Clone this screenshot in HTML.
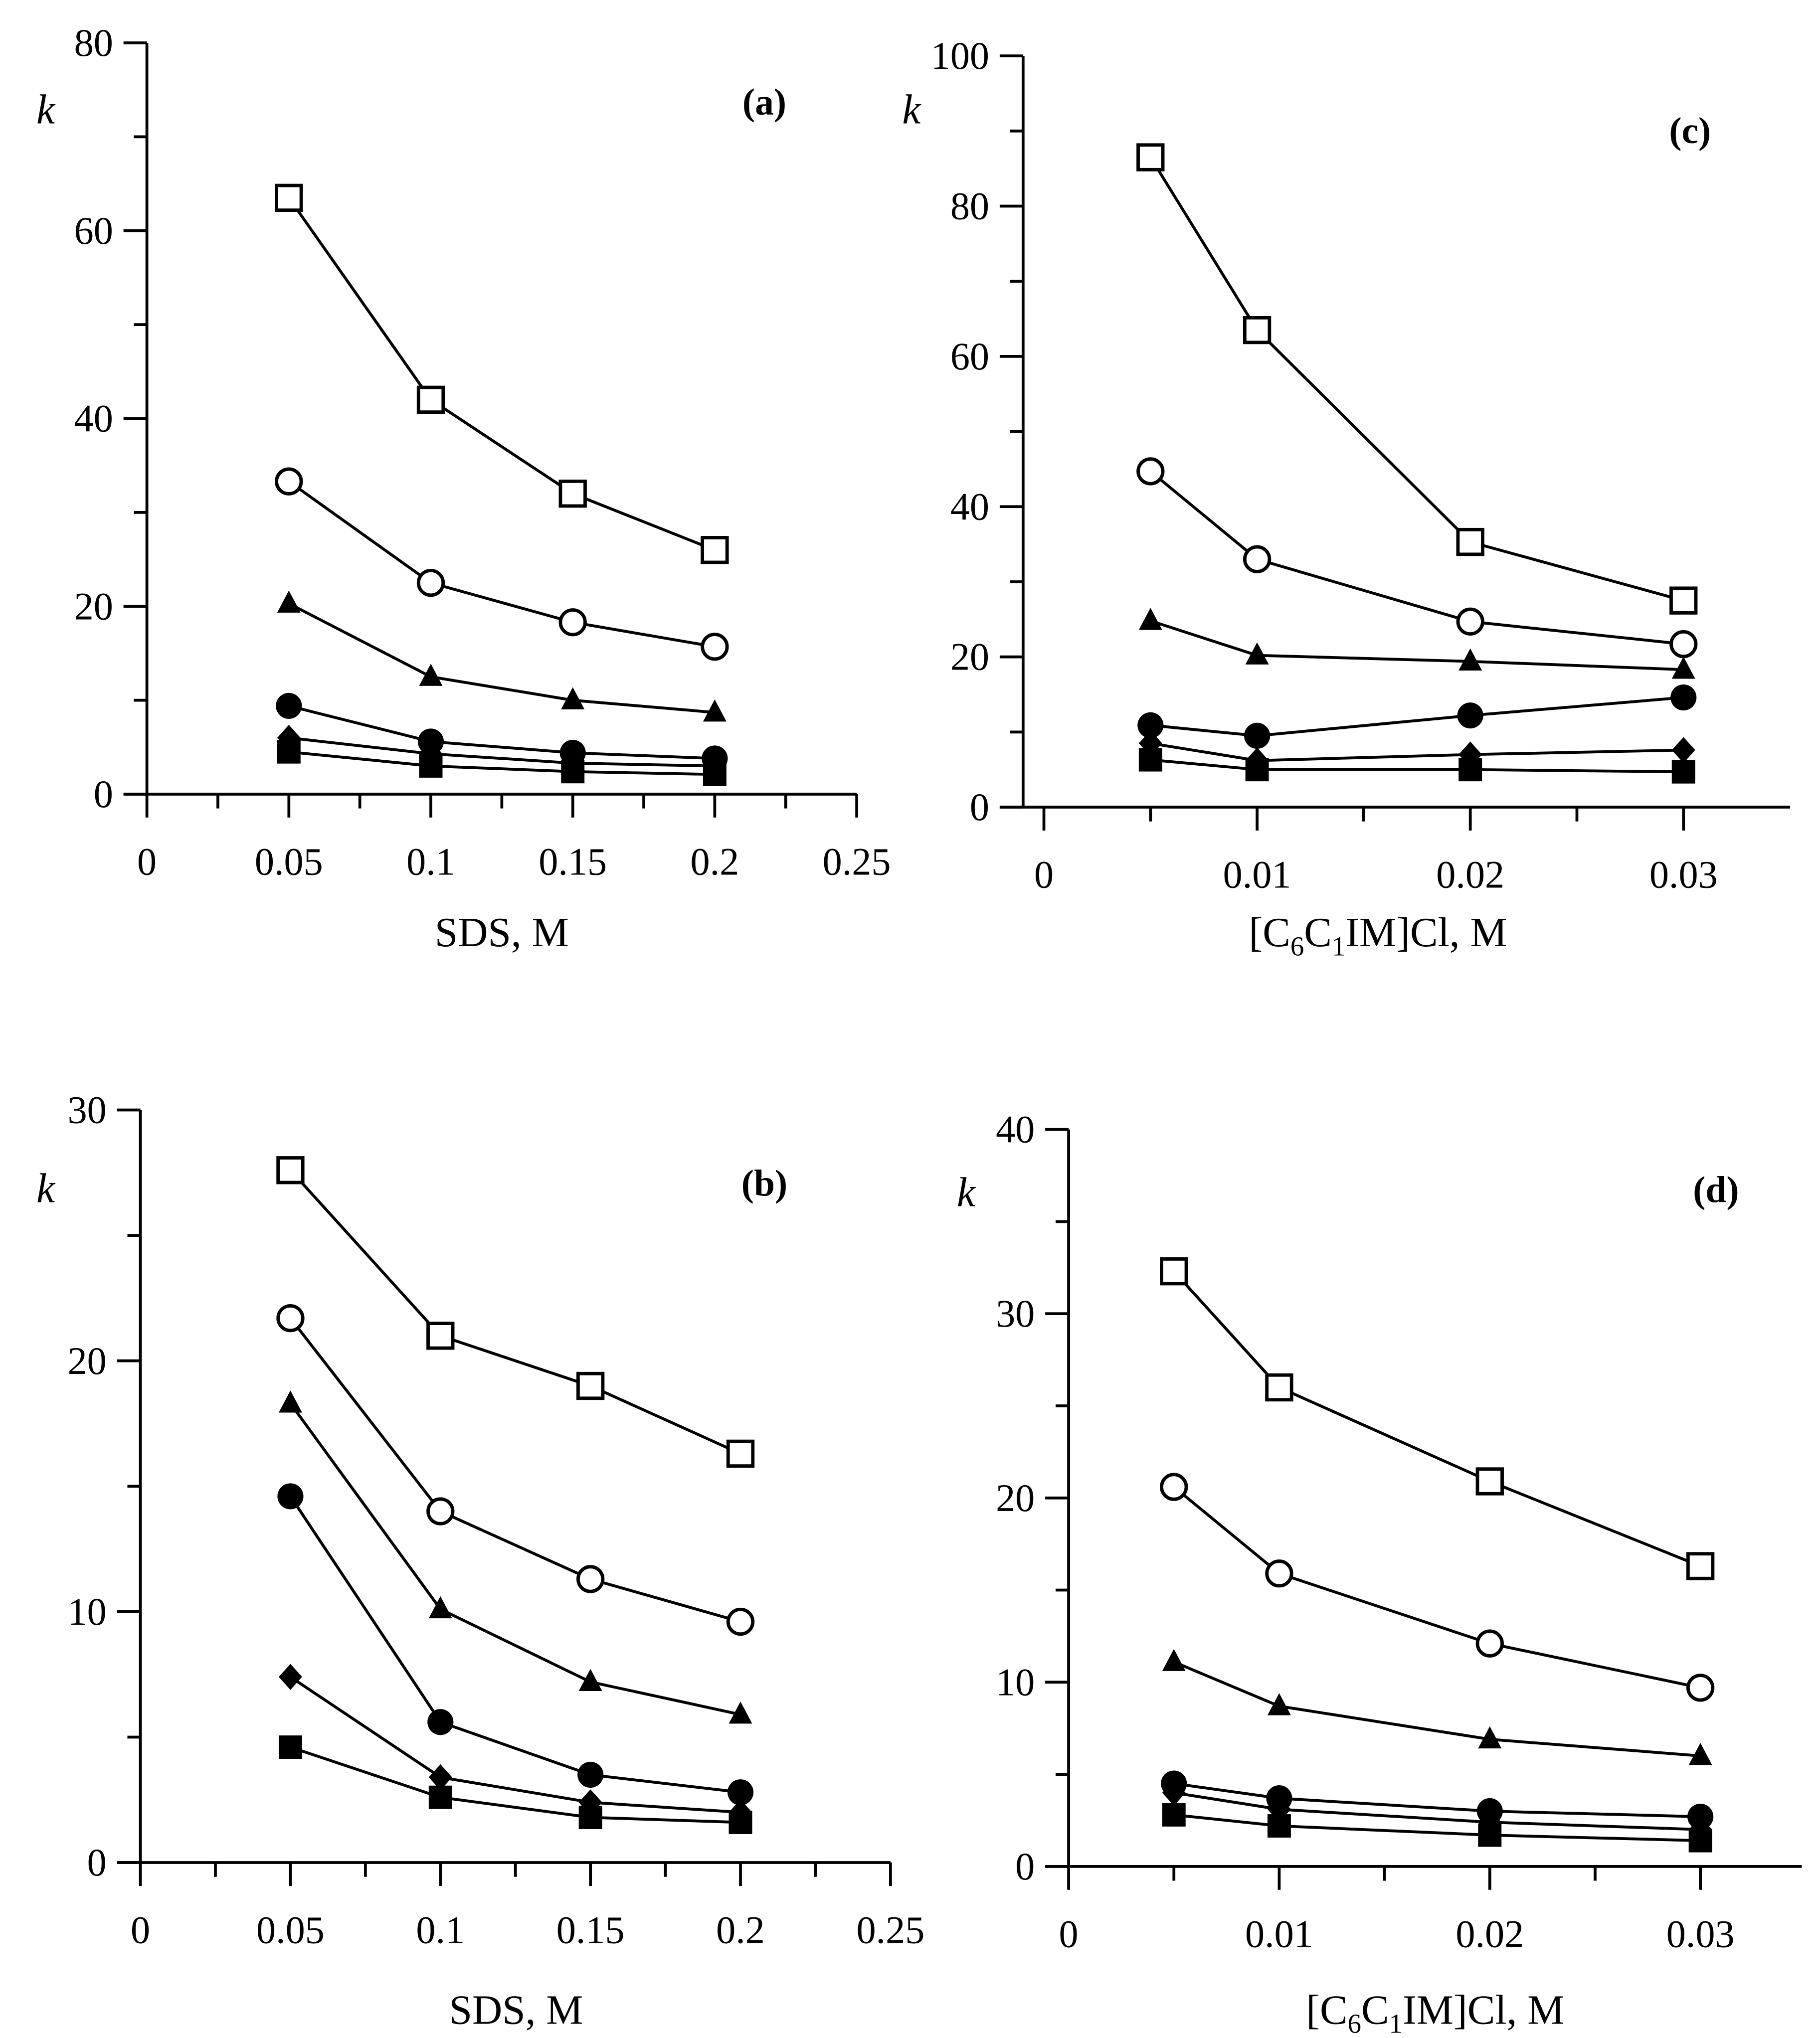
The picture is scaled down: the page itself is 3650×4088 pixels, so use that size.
<!DOCTYPE html>
<html><head><meta charset="utf-8"><style>
html,body{margin:0;padding:0;background:#fff}
svg{display:block}
text{font-family:"Liberation Serif",serif;fill:#000}
</style></head><body>
<svg id="fig" width="3650" height="4088" viewBox="0 0 1400 1568" xmlns="http://www.w3.org/2000/svg"></svg>
<script>
const xCatsSDS = [0.05, 0.1, 0.15, 0.2];
const xCatsIL = [0.005, 0.01, 0.02, 0.03];
const seriesNames = ['open-square','open-circle','filled-triangle','filled-circle','filled-diamond','filled-square'];
const aVals = [[63.5,42,32,26],[33.3,22.5,18.3,15.7],[20.3,12.5,10,8.7],[9.4,5.6,4.4,3.8],[6,4.3,3.3,3],[4.5,3,2.4,2.1]];
const bVals = [[27.6,21,19,16.3],[21.7,14,11.3,9.6],[18.3,10.1,7.2,5.9],[14.6,5.6,3.5,2.8],[7.4,3.4,2.4,2],[4.6,2.6,1.8,1.6]];
const cVals = [[86.5,63.5,35.3,27.5],[44.7,33,24.7,21.7],[24.8,20.2,19.4,18.3],[10.9,9.5,12.2,14.6],[8.5,6.2,7,7.6],[6.3,5,5,4.7]];
const dVals = [[32.3,26,20.9,16.3],[20.6,15.9,12.1,9.7],[11.1,8.7,6.9,6],[4.5,3.7,3,2.7],[4,3.1,2.4,2],[2.8,2.2,1.7,1.4]];
const sdsTicks = ['0','0.05','0.1','0.15','0.2','0.25'];
const ilTicks = ['0','0.01','0.02','0.03'];

const NS='http://www.w3.org/2000/svg';
const svg=document.getElementById('fig');
function el(tag,attrs,parent){const e=document.createElementNS(NS,tag);for(const k in attrs)e.setAttribute(k,attrs[k]);(parent||svg).appendChild(e);return e;}

const panels=[
 {id:'a',vals:aVals,xs:xCatsSDS,ax:113,ay:611,x0:113,xs1:2184,axEnd:659,yTop:33,yMax:80,yMaj:20,yMin:10,xMaj:0.05,xMin:0.025,xMaxV:0.25,ticks:sdsTicks,kx:28,ky:95,lx:588,ly:88,title:'SDS, M',tx:386,ty:728,il:false},
 {id:'c',vals:cVals,xs:xCatsIL,ax:787,ay:621,x0:803,xs1:16400,axEnd:1377,yTop:43,yMax:100,yMaj:20,yMin:10,xMaj:0.01,xMin:0.005,xMaxV:0.0349,ticks:ilTicks,kx:694,ky:95,lx:1300,ly:110,title:'',tx:1060,ty:728,il:true},
 {id:'b',vals:bVals,xs:xCatsSDS,ax:108,ay:1433,x0:108,xs1:2308,axEnd:685,yTop:854,yMax:30,yMaj:10,yMin:5,xMaj:0.05,xMin:0.025,xMaxV:0.25,ticks:sdsTicks,kx:28,ky:925,lx:588,ly:920,title:'SDS, M',tx:397,ty:1557,il:false},
 {id:'d',vals:dVals,xs:xCatsIL,ax:822,ay:1436,x0:822,xs1:16200,axEnd:1386,yTop:869,yMax:40,yMaj:10,yMin:5,xMaj:0.01,xMin:0.005,xMaxV:0.0348,ticks:ilTicks,kx:736,ky:928,lx:1320,ly:925,title:'',tx:1104,ty:1557,il:true}
];

panels.forEach(p=>{
  const g=el('g',{});
  
  
  const sy=(p.ay-p.yTop)/p.yMax;
  const X=v=>p.x0+v*p.xs1, Y=v=>p.ay-v*sy;
  const ya=el('line',{x1:p.ax,y1:p.ay,x2:p.ax,y2:p.yTop,stroke:'#000','stroke-width':2.2},g);
  
  const xa=el('line',{x1:p.ax-18,y1:p.ay,x2:p.axEnd,y2:p.ay,stroke:'#000','stroke-width':2.2},g);
  
  for(let v=0;v<=p.yMax+1e-9;v+=p.yMin){
    const maj=Math.abs(v/p.yMaj-Math.round(v/p.yMaj))<1e-6;
    el('line',{x1:p.ax-(maj?18:10),y1:Y(v),x2:p.ax,y2:Y(v),stroke:'#000','stroke-width':2.2},g);
    if(maj){const t=el('text',{x:p.ax-26,y:Y(v)+10,'font-size':30,'text-anchor':'end'},g);t.textContent=String(v);
      }
  }
  let ti=0;
  for(let v=0;v<=p.xMaxV+1e-9;v+=p.xMin){
    const maj=Math.abs(v/p.xMaj-Math.round(v/p.xMaj))<1e-6;
    el('line',{x1:X(v),y1:p.ay,x2:X(v),y2:p.ay+(maj?18:11),stroke:'#000','stroke-width':2.2},g);
    if(maj&&ti<p.ticks.length){const t=el('text',{x:X(v),y:p.ay+62,'font-size':30,'text-anchor':'middle'},g);t.textContent=p.ticks[ti++];
      }
  }
  const k=el('text',{x:p.kx,y:p.ky,'font-size':32,'font-style':'italic'},g);k.textContent='k';
  
  const pl=el('text',{x:p.lx,y:p.ly,'font-size':29,'font-weight':'bold','text-anchor':'middle'},g);pl.textContent='('+p.id+')';
  
  const tt=el('text',{x:p.tx,y:p.ty,'font-size':32,'text-anchor':'middle'},g);
  
  if(p.il){tt.innerHTML='[C<tspan font-size="21" dy="7">6</tspan><tspan dy="-7">C</tspan><tspan font-size="21" dy="7">1</tspan><tspan dy="-7">IM]Cl, M</tspan>';}
  else tt.textContent=p.title;
  p.vals.forEach((vals,si)=>{
    const sg=el('g',{},g);
    
    
    const pts=vals.map((v,i)=>X(p.xs[i])+','+Y(v)).join(' ');
    el('polyline',{points:pts,fill:'none',stroke:'#000','stroke-width':2.2},sg);
    vals.forEach((v,i)=>{
      const cx=X(p.xs[i]),cy=Y(v);let m;
      if(si===0)m=el('rect',{x:cx-9.5,y:cy-9.5,width:19,height:19,fill:'#fff',stroke:'#000','stroke-width':2.6},sg);
      else if(si===1)m=el('circle',{cx:cx,cy:cy,r:9.5,fill:'#fff',stroke:'#000','stroke-width':2.6},sg);
      else if(si===2)m=el('polygon',{points:`${cx},${cy-10} ${cx+9},${cy+7} ${cx-9},${cy+7}`,fill:'#000'},sg);
      else if(si===3)m=el('circle',{cx:cx,cy:cy,r:10,fill:'#000'},sg);
      else if(si===4)m=el('polygon',{points:`${cx},${cy-10} ${cx+9},${cy} ${cx},${cy+10} ${cx-9},${cy}`,fill:'#000'},sg);
      else m=el('rect',{x:cx-9,y:cy-9,width:18,height:18,fill:'#000'},sg);
      
      
    });
  });
});
</script>
</body></html>
